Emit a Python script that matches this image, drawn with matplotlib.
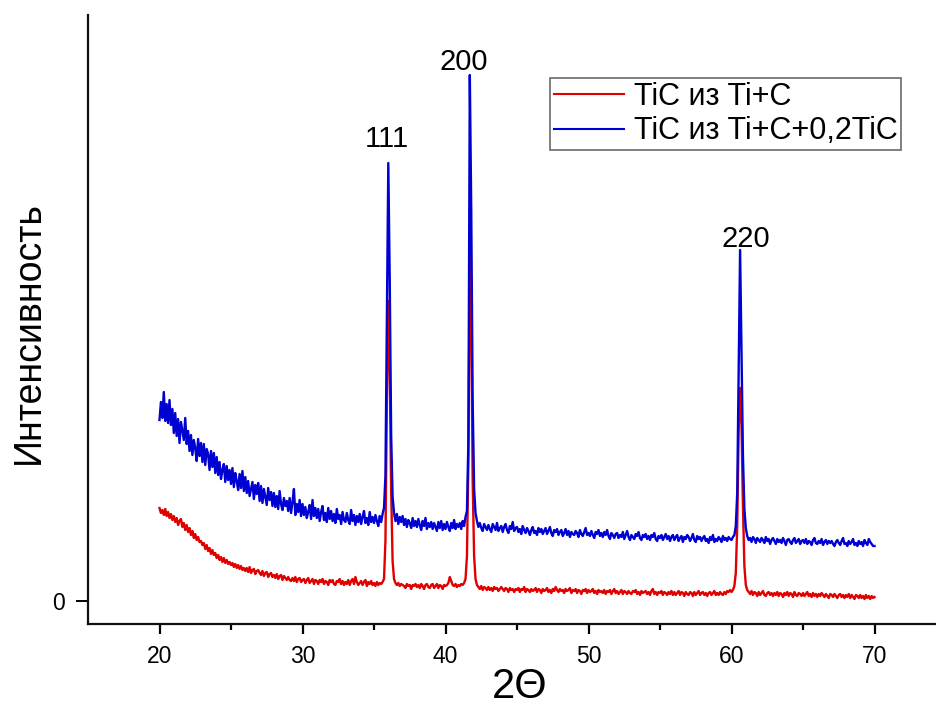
import numpy as np
import matplotlib
matplotlib.use("Agg")
import matplotlib.pyplot as plt

# 2-theta grid of the diffractometer scan (0.1 degree step, 20..70)
two_theta = np.round(np.arange(200, 701) * 0.1, 1)

series_labels = ["TiC из Ti+C", "TiC из Ti+C+0,2TiC"]

# Intensity (arbitrary units) of TiC from Ti+C
intensity_ti_c = [
    93, 88, 91, 86, 92, 85, 89, 83, 87, 81,
    85, 79, 83, 76, 80, 82, 74, 78, 71, 76,
    69, 73, 66, 70, 63, 67, 61, 64, 59, 60,
    56, 58, 52, 56, 50, 53, 47, 51, 46, 48,
    43, 46, 41, 44, 39, 43, 38, 41, 37, 39,
    36, 38, 34, 37, 33, 36, 32, 35, 31, 33,
    30, 33, 29, 34, 28, 31, 32, 27, 30, 31,
    28, 26, 30, 25, 28, 29, 24, 27, 28, 24,
    26, 23, 27, 22, 25, 26, 21, 25, 23, 21,
    24, 21, 20, 23, 20, 24, 19, 22, 23, 19,
    21, 22, 18, 21, 23, 18, 20, 22, 17, 21,
    20, 17, 21, 19, 22, 17, 20, 19, 16, 21,
    19, 21, 17, 16, 20, 19, 22, 17, 20, 16,
    19, 17, 21, 16, 20, 22, 17, 24, 19, 16,
    18, 20, 16, 19, 21, 15, 19, 17, 20, 16,
    18, 15, 19, 16, 18, 17, 19, 22, 60, 200,
    300, 230, 110, 40, 22, 18, 16, 18, 15, 17,
    16, 15, 13, 17, 15, 16, 12, 16, 15, 17,
    14, 16, 13, 17, 15, 12, 16, 17, 14, 13,
    16, 17, 13, 15, 17, 13, 16, 15, 12, 16,
    15, 16, 18, 24, 20, 16, 15, 17, 14, 16,
    15, 17, 16, 18, 22, 45, 140, 358, 280, 120,
    45, 22, 16, 14, 12, 15, 11, 14, 13, 11,
    14, 11, 13, 10, 14, 12, 13, 10, 12, 14,
    12, 10, 13, 12, 9, 13, 11, 12, 9, 12,
    11, 13, 9, 12, 11, 14, 9, 12, 11, 9,
    12, 10, 11, 13, 9, 12, 11, 8, 12, 10,
    11, 13, 9, 11, 8, 12, 10, 14, 11, 9,
    12, 10, 11, 8, 12, 10, 11, 13, 8, 11,
    10, 12, 8, 11, 10, 7, 11, 10, 12, 8,
    11, 9, 10, 12, 8, 10, 7, 11, 9, 10,
    8, 11, 7, 10, 9, 11, 7, 10, 12, 8,
    10, 7, 9, 11, 7, 10, 9, 7, 10, 8,
    7, 10, 9, 11, 7, 9, 6, 10, 8, 9,
    10, 7, 9, 6, 10, 12, 7, 9, 6, 9,
    8, 10, 6, 9, 8, 6, 9, 7, 10, 6,
    9, 6, 8, 10, 6, 9, 8, 5, 9, 7,
    6, 9, 8, 5, 9, 6, 8, 10, 6, 8,
    9, 6, 8, 5, 8, 9, 6, 8, 10, 6,
    8, 6, 9, 7, 6, 9, 7, 10, 9, 11,
    9, 11, 15, 28, 75, 170, 213, 175, 95, 35,
    16, 11, 9, 7, 10, 6, 9, 8, 5, 9,
    6, 8, 10, 6, 5, 8, 9, 6, 8, 5,
    8, 6, 9, 5, 8, 7, 4, 8, 6, 9,
    5, 8, 7, 4, 9, 6, 5, 8, 7, 5,
    8, 5, 7, 9, 5, 7, 4, 8, 5, 7,
    4, 7, 5, 8, 6, 4, 7, 5, 3, 7,
    6, 4, 7, 5, 3, 6, 7, 4, 6, 3,
    6, 4, 7, 3, 6, 4, 2, 6, 5, 3,
    6, 3, 5, 2, 6, 3, 5, 2, 5, 3,
    4,
]

# Intensity (arbitrary units) of TiC from Ti+C+0,2TiC
intensity_ti_c_tic = [
    181, 199, 183, 209, 180, 197, 178, 201, 176, 192,
    168, 188, 165, 182, 158, 179, 170, 161, 183, 157,
    170, 150, 166, 146, 161, 153, 140, 162, 145, 158,
    139, 157, 136, 152, 147, 131, 150, 134, 148, 128,
    144, 126, 139, 122, 131, 137, 119, 135, 121, 131,
    117, 133, 114, 128, 120, 111, 127, 113, 130, 110,
    124, 108, 120, 105, 112, 119, 102, 116, 107, 118,
    100, 115, 98, 112, 104, 96, 113, 101, 109, 95,
    108, 94, 105, 92, 110, 97, 91, 103, 95, 100,
    90, 103, 88, 99, 112, 86, 97, 89, 101, 85,
    97, 86, 94, 83, 89, 96, 82, 101, 85, 93,
    83, 92, 80, 89, 95, 81, 88, 79, 93, 82,
    90, 80, 87, 78, 92, 82, 86, 77, 89, 81,
    79, 88, 81, 77, 91, 80, 86, 76, 85, 79,
    87, 77, 84, 90, 78, 83, 76, 89, 79, 84,
    78, 86, 80, 75, 85, 79, 87, 93, 125, 285,
    438, 320, 165, 104, 88, 80, 87, 77, 84, 79,
    85, 76, 82, 74, 81, 78, 73, 83, 75, 80,
    74, 82, 76, 71, 80, 75, 83, 72, 78, 74,
    79, 72, 78, 74, 70, 79, 73, 80, 71, 77,
    72, 79, 74, 70, 78, 73, 81, 72, 77, 74,
    78, 72, 80, 75, 84, 90, 160, 526, 390, 200,
    112, 88, 80, 74, 78, 73, 70, 77, 74, 71,
    76, 72, 69, 77, 74, 71, 78, 70, 73, 75,
    69, 74, 77, 71, 68, 75, 72, 79, 70, 73,
    74, 69, 72, 67, 75, 71, 68, 73, 70, 66,
    71, 74, 68, 70, 66, 73, 69, 72, 67, 70,
    73, 67, 70, 74, 68, 65, 71, 69, 72, 66,
    69, 71, 65, 68, 72, 66, 70, 64, 69, 67,
    66, 70, 68, 64, 71, 67, 65, 69, 73, 66,
    68, 65, 70, 66, 63, 69, 67, 71, 65, 68,
    64, 69, 66, 71, 65, 62, 68, 66, 63, 67,
    68, 63, 66, 64, 69, 62, 66, 70, 64, 61,
    66, 64, 62, 67, 65, 69, 63, 61, 66, 64,
    67, 62, 65, 61, 66, 64, 68, 62, 60, 65,
    63, 66, 61, 64, 67, 62, 65, 60, 64, 66,
    61, 64, 66, 60, 63, 65, 59, 64, 62, 66,
    64, 60, 63, 67, 61, 59, 65, 62, 64, 60,
    63, 65, 60, 62, 58, 64, 61, 66, 59, 62,
    60, 64, 62, 59, 65, 61, 63, 60, 64, 62,
    61, 64, 66, 75, 108, 225, 351, 245, 145, 92,
    73, 65, 61, 63, 59, 64, 62, 58, 63, 61,
    59, 63, 61, 58, 64, 60, 62, 57, 61, 63,
    60, 57, 62, 59, 61, 58, 63, 60, 56, 61,
    62, 59, 57, 61, 63, 58, 60, 62, 57, 60,
    61, 58, 62, 57, 60, 59, 56, 61, 63, 58,
    57, 60, 58, 62, 56, 59, 61, 57, 60, 58,
    60, 57, 55, 59, 61, 58, 56, 60, 63, 57,
    58, 55, 60, 57, 59, 62, 56, 58, 55, 60,
    57, 59, 55, 61, 58, 56, 62, 59, 57, 55,
    55,
]

peak_labels = ["111", "200", "220"]

assert len(intensity_ti_c) == len(two_theta)
assert len(intensity_ti_c_tic) == len(two_theta)

plt.rcParams["font.family"] = ["Liberation Sans", "DejaVu Sans"]

W, H = 936, 707
fig = plt.figure(figsize=(W / 100, H / 100), dpi=100)
ax = fig.add_axes([88 / W, (H - 624) / H, (936 - 88) / W, (624 - 15) / H])

red = "#e00000"
blue = "#0000d2"
ax.plot(two_theta, intensity_ti_c, color=red, lw=1.7, label=series_labels[0])
ax.plot(two_theta, intensity_ti_c_tic, color=blue, lw=1.7, label=series_labels[1])

ax.set_xlim(15, 74.3)
ax.set_ylim(-23, 586)

for s in ["top", "right"]:
    ax.spines[s].set_visible(False)
for s in ["left", "bottom"]:
    ax.spines[s].set_linewidth(1.6)
    ax.spines[s].set_color("#111111")

ax.set_xticks([20, 30, 40, 50, 60, 70])
ax.set_xticks([25, 35, 45, 55, 65], minor=True)
ax.set_yticks([0])
ax.tick_params(axis="x", which="major", length=7, width=1.6, pad=8,
               labelsize=16.5, direction="out")
ax.tick_params(axis="x", which="minor", length=4.5, width=1.6, direction="out")
ax.tick_params(axis="y", which="major", length=8.5, width=1.4, pad=8,
               labelsize=16.5, direction="out")

ax.set_xlabel("2Θ", fontsize=30)
ax.xaxis.set_label_coords((520 - 88) / 848, (624 - 667) / 609)
ax.set_ylabel("Интенсивность", fontsize=27)
ax.yaxis.set_label_coords((47 - 88) / 848, (624 - 333) / 609)

label_pos = [(35.87, 454), (41.26, 531), (61.03, 354)]
for txt, (lx, ly) in zip(peak_labels, label_pos):
    ax.text(lx, ly, txt, fontsize=21, ha="center", va="baseline")

leg = ax.legend(loc="upper right", bbox_to_anchor=(901 / W, 1 - 78 / H),
                bbox_transform=fig.transFigure, fontsize=22, frameon=True,
                fancybox=False, borderpad=0.12, borderaxespad=0,
                handlelength=2.3, handletextpad=0.3, labelspacing=0.15)
leg.get_frame().set_edgecolor("#444444")
leg.get_frame().set_linewidth(1.2)
for line in leg.get_lines():
    line.set_linewidth(1.5)

fig.savefig("out.png", dpi=100)
